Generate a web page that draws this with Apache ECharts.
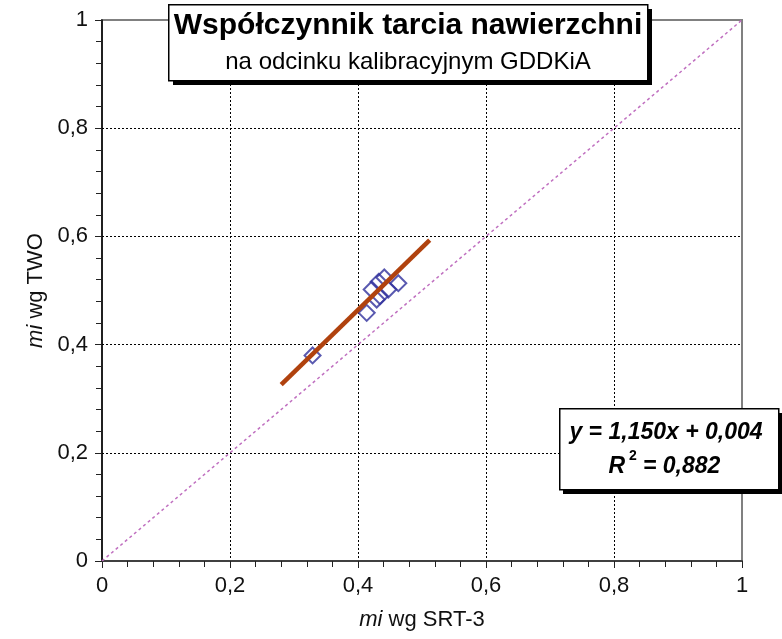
<!DOCTYPE html>
<html>
<head>
<meta charset="utf-8">
<script src="https://cdn.jsdelivr.net/npm/echarts@6/dist/echarts.min.js"></script>
<style>
  html, body { margin: 0; padding: 0; background: #fff; }
  #chart { width: 782px; height: 639px; }
</style>
</head>
<body>
<div id="chart"></div>
<script>
// pomiary: mi wg SRT-3 (x) i mi wg TWO (y)
const srtX = [0.329, 0.4136, 0.4292, 0.4344, 0.4214, 0.4473, 0.4323, 0.4411, 0.4630];
const twoY = [0.380, 0.4587, 0.4833, 0.4895, 0.5019, 0.5019, 0.5161, 0.5241, 0.5135];

// linia trendu (odczytane końce)
const trendX = [0.28, 0.512];
const trendY = [0.326, 0.593];

// przekątna y = x
const diagX = [0, 1];
const diagY = [0, 1];

const axisTicks = [0, 0.2, 0.4, 0.6, 0.8, 1];

const titleText = 'Współczynnik tarcia nawierzchni';
const subtitleText = 'na odcinku kalibracyjnym GDDKiA';

const zip = (xs, ys) => xs.map((x, i) => [x, ys[i]]);
const fmt = v => String(v).replace('.', ',');

const myChart = echarts.init(document.getElementById('chart'));

const font = 'Liberation Sans, Arial, sans-serif';

const axisCommon = {
  type: 'value',
  min: axisTicks[0],
  max: axisTicks[axisTicks.length - 1],
  interval: 0.2,
  nameLocation: 'middle',
  nameTextStyle: {
    fontFamily: font,
    fontSize: 22,
    color: '#111',
    rich: { i: { fontFamily: font, fontSize: 22, fontStyle: 'italic', color: '#111' } }
  },
  axisLabel: {
    fontFamily: font,
    fontSize: 22,
    color: '#111',
    margin: 14,
    formatter: fmt
  },
  axisTick: { show: true, inside: false, length: 7, lineStyle: { color: '#222', width: 1 } },
  minorTick: { show: true, splitNumber: 5, length: 6, lineStyle: { color: '#222', width: 1 } },
  splitLine: {
    show: true,
    showMinLine: false,
    showMaxLine: false,
    lineStyle: { color: '#000', type: [2, 2], width: 1 }
  }
};

const eqFont = { fontFamily: font, fontWeight: 'bold', fontStyle: 'italic', fill: '#000', verticalAlign: 'middle' };

const option = {
  animation: false,
  backgroundColor: '#fff',
  grid: {
    left: 102,
    right: 40,
    top: 20,
    bottom: 78,
    show: true,
    borderColor: '#808080',
    borderWidth: 2,
    backgroundColor: '#fff'
  },
  xAxis: Object.assign({}, axisCommon, {
    name: '{i|mi} wg SRT-3',
    nameGap: 48,
    axisLine: { show: true, onZero: false, lineStyle: { color: '#404040', width: 2 } }
  }),
  yAxis: Object.assign({}, axisCommon, {
    name: '{i|mi} wg TWO',
    nameGap: 55,
    axisLine: { show: true, onZero: false, lineStyle: { color: '#000', width: 1.5 } }
  }),
  series: [
    {
      type: 'line',
      data: zip(diagX, diagY),
      symbol: 'none',
      lineStyle: { color: '#c070c0', width: 1.5, type: [3, 3] },
      z: 2
    },
    {
      type: 'scatter',
      data: zip(srtX, twoY),
      symbol: 'diamond',
      symbolSize: [16, 16],
      itemStyle: { color: 'rgba(0,0,0,0)', borderColor: '#30309c', borderWidth: 2 },
      z: 3
    },
    {
      type: 'line',
      data: zip(trendX, trendY),
      symbol: 'none',
      lineStyle: { color: '#b0420e', width: 4.5 },
      z: 4
    }
  ],
  graphic: [
    // ramka tytułu
    { type: 'rect', left: 173, top: 9, shape: { width: 479, height: 76 }, style: { fill: '#000' }, z: 100 },
    { type: 'rect', left: 168, top: 4, shape: { width: 479, height: 76 }, style: { fill: '#fff', stroke: '#000', lineWidth: 1.5 }, z: 101 },
    {
      type: 'text', x: 408, y: 26, z: 102,
      style: { text: titleText, fontFamily: font, fontSize: 30, fontWeight: 'bold', fill: '#000', align: 'center', verticalAlign: 'middle' }
    },
    {
      type: 'text', x: 408, y: 62, z: 102,
      style: { text: subtitleText, fontFamily: font, fontSize: 24, fill: '#000', align: 'center', verticalAlign: 'middle' }
    },
    // ramka równania
    { type: 'rect', left: 563, top: 413, shape: { width: 219, height: 81 }, style: { fill: '#000' }, z: 100 },
    { type: 'rect', left: 559, top: 408, shape: { width: 219, height: 81 }, style: { fill: '#fff', stroke: '#000', lineWidth: 1.5 }, z: 101 },
    {
      type: 'text', x: 666, y: 433, z: 102,
      style: Object.assign({ text: 'y = 1,150x + 0,004', fontSize: 23, align: 'center' }, eqFont)
    },
    {
      type: 'text', x: 625, y: 467, z: 102,
      style: Object.assign({ text: 'R', fontSize: 23, align: 'right' }, eqFont)
    },
    {
      type: 'text', x: 629, y: 456, z: 102,
      style: { text: '2', fontFamily: font, fontSize: 14, fontWeight: 'bold', fill: '#000', align: 'left', verticalAlign: 'middle' }
    },
    {
      type: 'text', x: 643, y: 467, z: 102,
      style: Object.assign({ text: '= 0,882', fontSize: 23, align: 'left' }, eqFont)
    }
  ]
};

myChart.setOption(option);
</script>
</body>
</html>
